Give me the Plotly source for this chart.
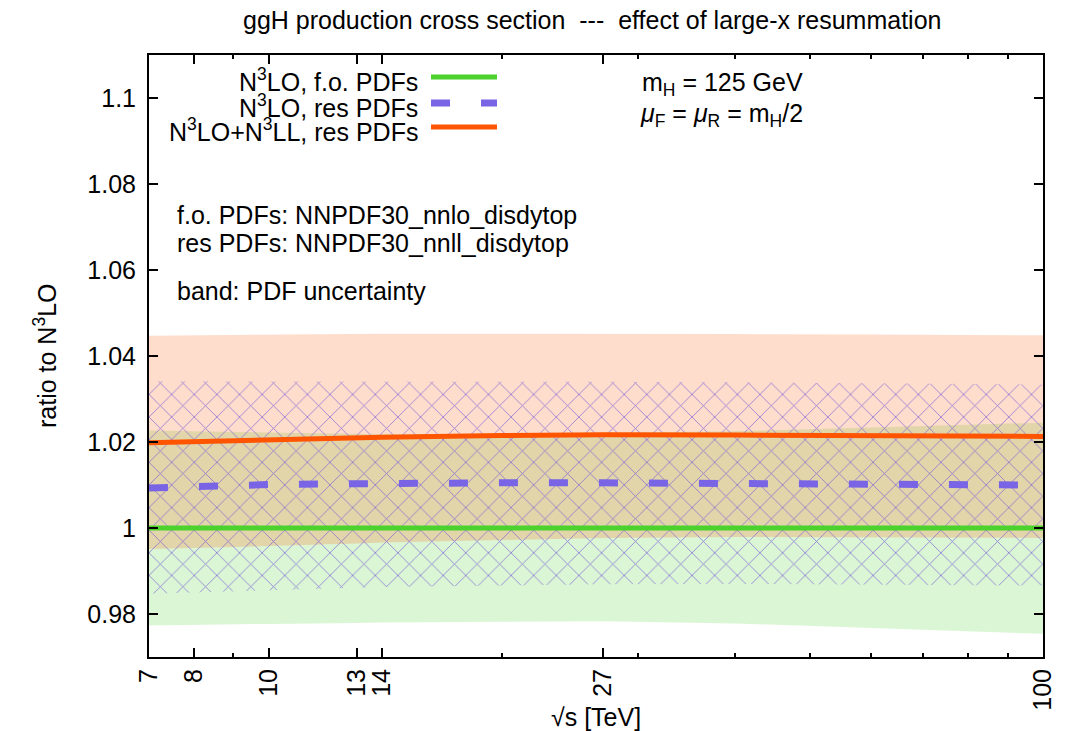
import plotly.graph_objects as go

# ---------------- data ----------------
sqrt_s = [7, 8, 10, 13, 14, 20, 27, 40, 60, 100]

# N3LO, fixed-order PDFs (green)
fo_central = [1.0000, 1.0000, 1.0000, 1.0000, 1.0000, 1.0000, 1.0000, 1.0000, 1.0000, 1.0000]
fo_up = [1.0227, 1.0225, 1.0222, 1.0219, 1.0218, 1.0219, 1.0222, 1.0225, 1.0234, 1.0245]
fo_dn = [0.9773, 0.9775, 0.9777, 0.9779, 0.9780, 0.9782, 0.9783, 0.9778, 0.9768, 0.9754]

# N3LO, resummed PDFs (blue dashed, hatched band)
res_central = [1.0093, 1.0097, 1.0101, 1.0103, 1.0104, 1.0105, 1.0105, 1.0104, 1.0102, 1.0100]
res_up = [1.0341, 1.0341, 1.0341, 1.0340, 1.0340, 1.0340, 1.0340, 1.0339, 1.0337, 1.0334]
res_dn = [0.9847, 0.9850, 0.9855, 0.9861, 0.9863, 0.9866, 0.9869, 0.9870, 0.9869, 0.9866]

# N3LO+N3LL, resummed PDFs (orange)
resum_central = [1.0198, 1.0201, 1.0206, 1.0210, 1.0211, 1.0215, 1.0217, 1.0216, 1.0215, 1.0213]
resum_up = [1.0447, 1.0448, 1.0450, 1.0451, 1.0452, 1.0452, 1.0452, 1.0451, 1.0450, 1.0448]
resum_dn = [0.9951, 0.9953, 0.9958, 0.9964, 0.9966, 0.9972, 0.9977, 0.9979, 0.9978, 0.9977]

x_tick_vals = [7, 8, 10, 13, 14, 27, 100]
x_tick_text = ["7", "8", "10", "13", "14", "27", "100"]
x_minor_vals = [9, 20, 30, 40, 50, 60, 70, 80, 90]
y_tick_vals = [0.98, 1.00, 1.02, 1.04, 1.06, 1.08, 1.10]
y_tick_text = ["0.98", "1", "1.02", "1.04", "1.06", "1.08", "1.1"]

legend_labels = ["N<sup>3</sup>LO, f.o. PDFs",
                 "N<sup>3</sup>LO, res PDFs",
                 "N<sup>3</sup>LO+N<sup>3</sup>LL, res PDFs"]

# ---------------- styles ----------------
FONT = "Liberation Sans, Arial, Helvetica, sans-serif"
FS = 25
GREEN = "rgb(75,210,45)"
BLUE = "rgb(120,100,228)"
ORANGE = "rgb(255,85,0)"
DASH = "19px,31px"

fig = go.Figure()

# green band
fig.add_trace(go.Scatter(x=sqrt_s, y=fo_dn, mode="lines", line=dict(width=0),
                         showlegend=False, hoverinfo="skip"))
fig.add_trace(go.Scatter(x=sqrt_s, y=fo_up, mode="lines", line=dict(width=0),
                         fill="tonexty", fillcolor="rgba(75,210,45,0.2)",
                         showlegend=False, hoverinfo="skip"))
# orange band
fig.add_trace(go.Scatter(x=sqrt_s, y=resum_dn, mode="lines", line=dict(width=0),
                         showlegend=False, hoverinfo="skip"))
fig.add_trace(go.Scatter(x=sqrt_s, y=resum_up, mode="lines", line=dict(width=0),
                         fill="tonexty", fillcolor="rgba(255,85,0,0.2)",
                         showlegend=False, hoverinfo="skip"))
# hatched band
fig.add_trace(go.Scatter(x=sqrt_s, y=res_dn, mode="lines", line=dict(width=0),
                         showlegend=False, hoverinfo="skip"))
fig.add_trace(go.Scatter(x=sqrt_s, y=res_up, mode="lines", line=dict(width=0),
                         fill="tonexty", fillcolor="rgba(0,0,0,0)",
                         fillpattern=dict(shape="x", size=16, solidity=0.1,
                                          fgcolor="rgb(118,92,215)", fgopacity=0.8,
                                          bgcolor="rgba(0,0,0,0)"),
                         showlegend=False, hoverinfo="skip"))

# central lines
fig.add_trace(go.Scatter(x=sqrt_s, y=fo_central, mode="lines",
                         line=dict(color=GREEN, width=5), showlegend=False))
fig.add_trace(go.Scatter(x=sqrt_s, y=res_central, mode="lines",
                         line=dict(color=BLUE, width=7, dash=DASH), showlegend=False))
fig.add_trace(go.Scatter(x=sqrt_s, y=resum_central, mode="lines",
                         line=dict(color=ORANGE, width=5), showlegend=False))

# ---------------- layout ----------------
L, R, T, B = 149, 29, 55, 74
W, H = 1072, 731
PW, PH = W - L - R, H - T - B


def px(x):
    return (x - L) / PW


def py(y):
    return (H - B - y) / PH


annotations = []
# title
annotations.append(dict(text="ggH production cross section  ---  effect of large-x resummation",
                        xref="paper", yref="paper", x=0.496, y=py(20), xanchor="center",
                        yanchor="middle", showarrow=False, font=dict(size=FS)))
# axis titles
annotations.append(dict(text="√s [TeV]", xref="paper", yref="paper", x=0.5, y=py(717),
                        xanchor="center", yanchor="middle", showarrow=False,
                        font=dict(size=FS)))
annotations.append(dict(text="ratio to N<sup>3</sup>LO", xref="paper", yref="paper",
                        x=px(45), y=0.5, xanchor="center", yanchor="middle",
                        textangle=-90, showarrow=False, font=dict(size=FS)))
# info texts
info = [("m<sub>H</sub> = 125 GeV", 640, 84),
        ("<i>μ</i><sub>F</sub> = <i>μ</i><sub>R</sub> = m<sub>H</sub>/2", 638, 115),
        ("f.o. PDFs: NNPDF30_nnlo_disdytop", 175, 215),
        ("res PDFs: NNPDF30_nnll_disdytop", 175, 243),
        ("band: PDF uncertainty", 175, 291)]
for t, xx, yy in info:
    annotations.append(dict(text=t, xref="paper", yref="paper", x=px(xx), y=py(yy),
                            xanchor="left", yanchor="middle", showarrow=False,
                            font=dict(size=FS)))

# manual legend (text right, sample on the right side)
leg_rows = [77, 103, 127]
leg_styles = [dict(color=GREEN, width=5), dict(color=BLUE, width=7, dash=DASH),
              dict(color=ORANGE, width=5)]
shapes = []
for lab, yy, st in zip(legend_labels, leg_rows, leg_styles):
    annotations.append(dict(text=lab, xref="paper", yref="paper", x=px(420), y=py(yy + 3),
                            xanchor="right", yanchor="middle", showarrow=False,
                            font=dict(size=FS)))
    shapes.append(dict(type="line", xref="paper", yref="paper", x0=px(431), x1=px(497),
                       y0=py(yy), y1=py(yy), line=st))

axis_common = dict(showgrid=False, zeroline=False, showline=True, linecolor="black",
                   linewidth=2, mirror="ticks", ticks="inside", ticklen=9, tickwidth=1.5,
                   tickcolor="black", tickfont=dict(size=FS, color="black"))

fig.update_layout(
    width=W, height=H,
    margin=dict(l=L, r=R, t=T, b=B, pad=0),
    paper_bgcolor="white", plot_bgcolor="white",
    font=dict(family=FONT, size=FS, color="black"),
    showlegend=False,
    annotations=annotations,
    shapes=shapes,
    xaxis=dict(type="log", range=[0.845098, 2.0], tickmode="array",
               tickvals=x_tick_vals, ticktext=x_tick_text, tickangle=-90,
               minor=dict(tickvals=x_minor_vals, ticks="inside", ticklen=4,
                          tickwidth=1.5, tickcolor="black", showgrid=False),
               **axis_common),
    yaxis=dict(range=[0.97, 1.11], tickmode="array", tickvals=y_tick_vals,
               ticktext=y_tick_text, ticklabelstandoff=6, **axis_common),
)

fig.write_html("out.html")
